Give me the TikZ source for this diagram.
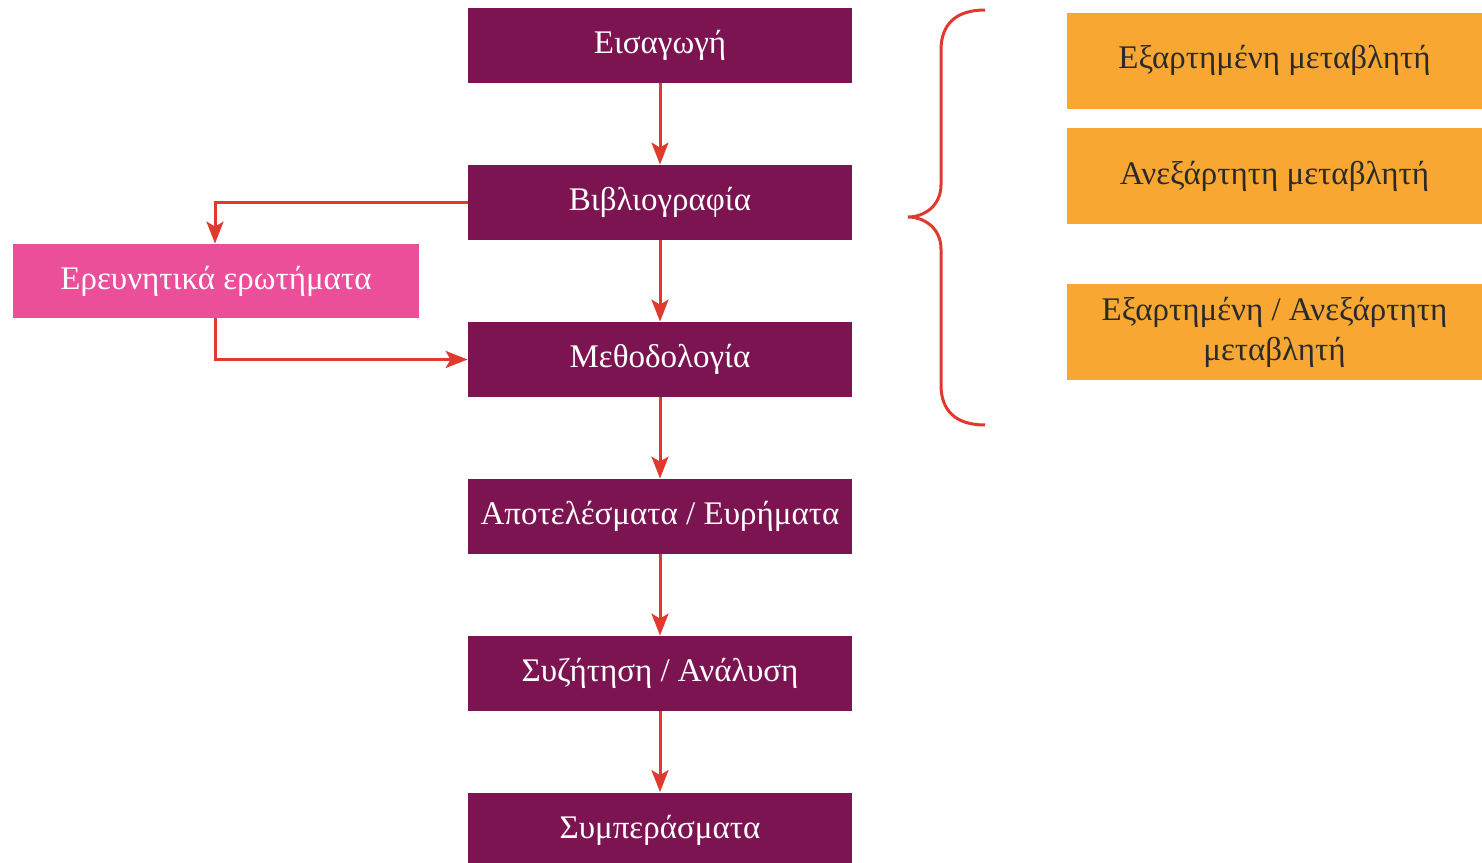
\documentclass[tikz,border=0pt]{standalone}
\usepackage{fontspec}
\setmainfont{Liberation Serif}
\usetikzlibrary{arrows.meta}
\definecolor{purp}{HTML}{7D1452}
\definecolor{pinkb}{HTML}{EC4F9A}
\definecolor{orangeb}{HTML}{F8A832}
\definecolor{redl}{HTML}{E0392E}
\definecolor{darktxt}{HTML}{2A2A2A}
\begin{document}
\begin{tikzpicture}[x=0.5pt,y=-0.5pt,
  box/.style={draw=none,inner sep=0pt,font=\fontsize{16.5pt}{20pt}\selectfont,align=center},
  pbox/.style={box,fill=purp,text=white,minimum width=192pt,minimum height=37.5pt},
  kbox/.style={box,fill=pinkb,text=white,minimum width=203pt,minimum height=37pt},
  obox/.style={box,fill=orangeb,text=darktxt,minimum width=207.5pt,minimum height=48pt},
  conn/.style={draw=redl,line width=1.5pt,-{Stealth[length=11pt,width=8.5pt,inset=2.5pt]}},
  brace/.style={draw=redl,line width=1.5pt}]
\useasboundingbox (0,0) rectangle (1482,862);
\node[pbox] (intro) at (660,45.5) {Εισαγωγή};
\node[pbox] (lit) at (660,202.5) {Βιβλιογραφία};
\node[pbox] (meth) at (660,359.5) {Μεθοδολογία};
\node[pbox] (res) at (660,516.5) {Αποτελέσματα / Ευρήματα};
\node[pbox] (disc) at (660,673.5) {Συζήτηση / Ανάλυση};
\node[pbox] (concl) at (660,830) {Συμπεράσματα};
\node[kbox] (rq) at (216,281) {Ερευνητικά ερωτήματα};
\node[obox] (dep) at (1274.5,60.5) {Εξαρτημένη μεταβλητή};
\node[obox] (ind) at (1274.5,176) {Ανεξάρτητη μεταβλητή};
\node[obox] (both) at (1274.5,332) {Εξαρτημένη / Ανεξάρτητη\\μεταβλητή};
\draw[conn] (intro) -- (lit);
\draw[conn] (lit) -- (meth);
\draw[conn] (meth) -- (res);
\draw[conn] (res) -- (disc);
\draw[conn] (disc) -- (concl);
\draw[conn] (lit.west) -| (rq.north west -| 215,0);
\coordinate (rqb) at (215,318);
\draw[conn] (rqb) |- (meth.west);
\coordinate (bt) at (985,10);
\coordinate (bb) at (985,425);
\coordinate (tip) at (908,217);
\draw[brace] (bt) .. controls (955,10) and (941,25) .. (941,50)
  -- (941,185) .. controls (941,205) and (925,217) .. (tip)
  .. controls (925,217) and (941,229) .. (941,249)
  -- (941,385) .. controls (941,410) and (955,425) .. (bb);
\end{tikzpicture}
\end{document}
